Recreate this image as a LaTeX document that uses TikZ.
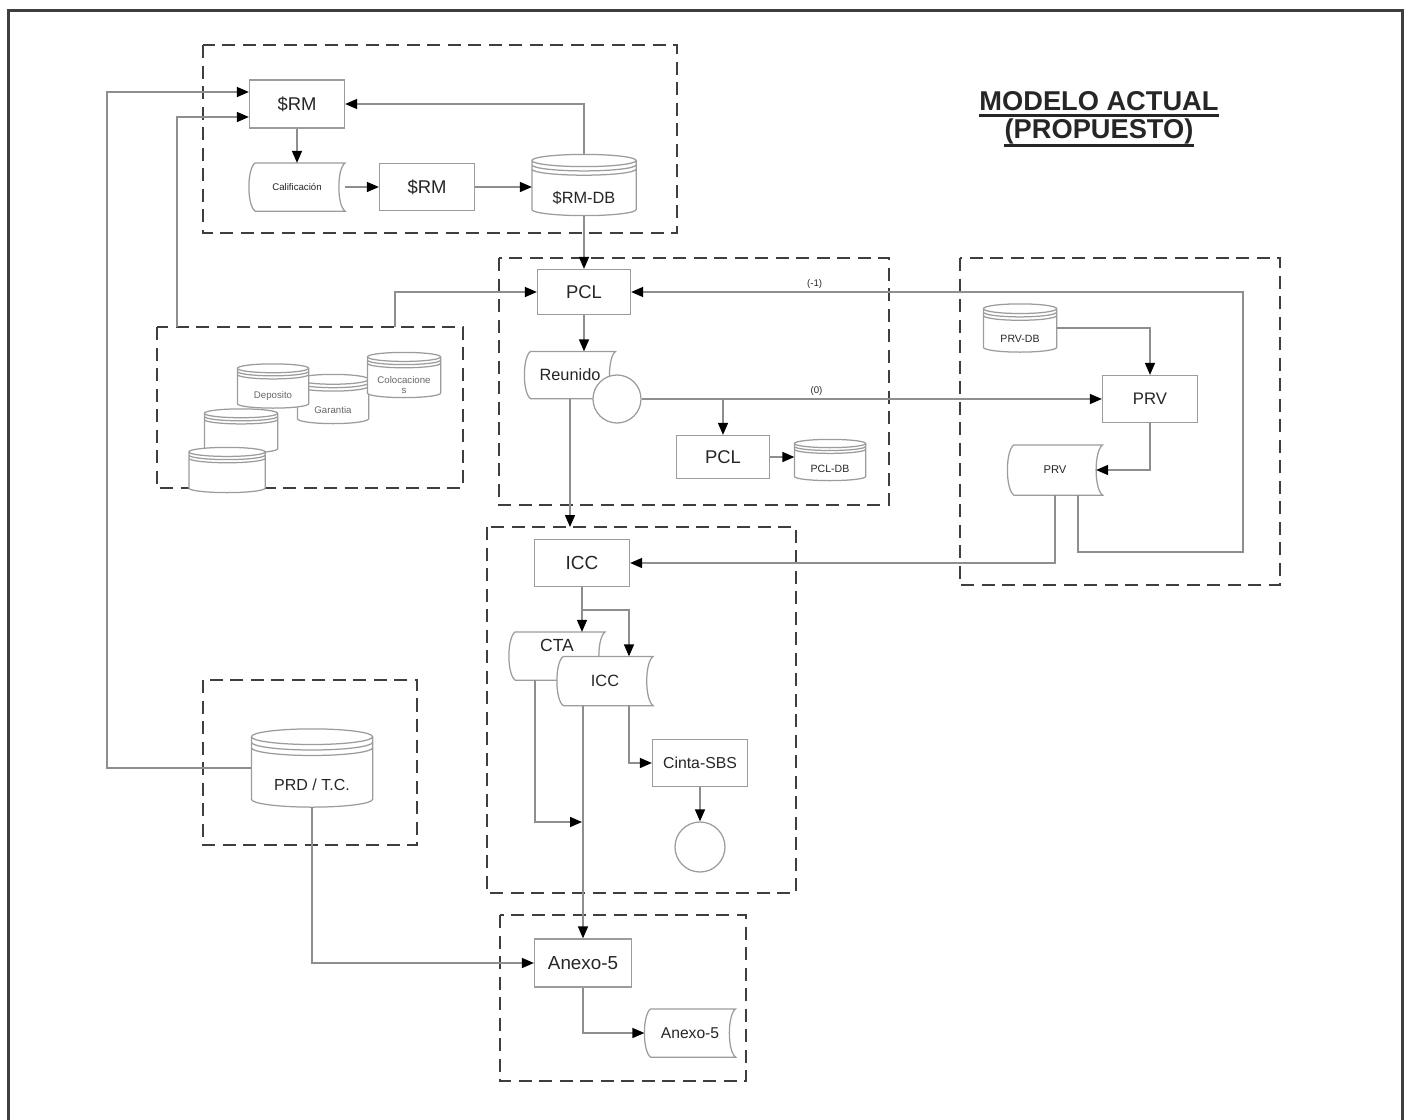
\documentclass[tikz,border=0pt]{standalone}
\usepackage{fontspec}
\setmainfont{Liberation Sans}
\usetikzlibrary{arrows.meta}

\newcommand{\fsz}[1]{\fontsize{#1}{#1}\selectfont}

\makeatletter
% flowchart "stored data": convex left side, concave right side
\pgfdeclareshape{storedata}{%
  \inheritsavedanchors[from=rectangle]%
  \inheritanchorborder[from=rectangle]%
  \inheritanchor[from=rectangle]{center}%
  \inheritanchor[from=rectangle]{north}%
  \inheritanchor[from=rectangle]{south}%
  \inheritanchor[from=rectangle]{east}%
  \inheritanchor[from=rectangle]{west}%
  \inheritanchor[from=rectangle]{north east}%
  \inheritanchor[from=rectangle]{north west}%
  \inheritanchor[from=rectangle]{south east}%
  \inheritanchor[from=rectangle]{south west}%
  \inheritanchor[from=rectangle]{base}%
  \inheritanchor[from=rectangle]{mid}%
  \anchor{inner east}{%
    \southwest \pgf@ya=\pgf@y
    \northeast \pgf@xb=\pgf@x \pgf@yb=\pgf@y
    \pgf@yc=\pgf@yb \advance\pgf@yc by -\pgf@ya
    \pgf@x=\pgf@xb \advance\pgf@x by -.13\pgf@yc
    \pgf@y=.5\pgf@ya \advance\pgf@y by .5\pgf@yb
  }%
  \backgroundpath{%
    \southwest \pgf@xa=\pgf@x \pgf@ya=\pgf@y
    \northeast \pgf@xb=\pgf@x \pgf@yb=\pgf@y
    \pgf@yc=\pgf@yb \advance\pgf@yc by -\pgf@ya
    \pgf@xc=.13\pgf@yc
    \pgf@yc=.12\pgf@yc
    \edef\sd@xa{\the\pgf@xa}\edef\sd@ya{\the\pgf@ya}%
    \edef\sd@xb{\the\pgf@xb}\edef\sd@yb{\the\pgf@yb}%
    \edef\sd@d{\the\pgf@xc}\edef\sd@v{\the\pgf@yc}%
    \pgfpathmoveto{\pgfpoint{\sd@xa+\sd@d}{\sd@yb}}%
    \pgfpathlineto{\pgfpoint{\sd@xb}{\sd@yb}}%
    \pgfpathcurveto{\pgfpoint{\sd@xb-1.333*\sd@d}{\sd@yb-\sd@v}}%
      {\pgfpoint{\sd@xb-1.333*\sd@d}{\sd@ya+\sd@v}}{\pgfpoint{\sd@xb}{\sd@ya}}%
    \pgfpathlineto{\pgfpoint{\sd@xa+\sd@d}{\sd@ya}}%
    \pgfpathcurveto{\pgfpoint{\sd@xa-0.333*\sd@d}{\sd@ya+\sd@v}}%
      {\pgfpoint{\sd@xa-0.333*\sd@d}{\sd@yb-\sd@v}}{\pgfpoint{\sd@xa+\sd@d}{\sd@yb}}%
    \pgfpathclose
  }%
}
% disk store: cylinder with a few rings under the lid
\pgfdeclareshape{diskstack}{%
  \inheritsavedanchors[from=rectangle]%
  \inheritanchorborder[from=rectangle]%
  \inheritanchor[from=rectangle]{center}%
  \inheritanchor[from=rectangle]{north}%
  \inheritanchor[from=rectangle]{south}%
  \inheritanchor[from=rectangle]{east}%
  \inheritanchor[from=rectangle]{west}%
  \inheritanchor[from=rectangle]{north east}%
  \inheritanchor[from=rectangle]{north west}%
  \inheritanchor[from=rectangle]{south east}%
  \inheritanchor[from=rectangle]{south west}%
  \inheritanchor[from=rectangle]{mid}%
  \anchor{text}{%
    \southwest \pgf@ya=\pgf@y
    \northeast \pgf@yb=\pgf@y
    \pgf@yc=\pgf@yb \advance\pgf@yc by -\pgf@ya
    \pgf@x=0pt \pgf@y=-.22\pgf@yc
  }%
  \backgroundpath{%
    \southwest \pgf@xa=\pgf@x \pgf@ya=\pgf@y
    \northeast \pgf@xb=\pgf@x \pgf@yb=\pgf@y
    \pgf@yc=\pgf@yb \advance\pgf@yc by -\pgf@ya
    \pgf@yc=.1\pgf@yc
    \pgf@xc=\pgf@xb \advance\pgf@xc by -\pgf@xa
    \pgf@xc=.5\pgf@xc
    \edef\dk@xa{\the\pgf@xa}\edef\dk@ya{\the\pgf@ya}%
    \edef\dk@xb{\the\pgf@xb}\edef\dk@yb{\the\pgf@yb}%
    \edef\dk@r{\the\pgf@yc}\edef\dk@rx{\the\pgf@xc}%
    \pgfpathmoveto{\pgfpoint{\dk@xa}{\dk@yb-\dk@r}}%
    \pgfpathlineto{\pgfpoint{\dk@xa}{\dk@ya+\dk@r}}%
    \pgfpatharc{180}{360}{\dk@rx and \dk@r}%
    \pgfpathlineto{\pgfpoint{\dk@xb}{\dk@yb-\dk@r}}%
    \pgfpatharc{0}{180}{\dk@rx and \dk@r}%
    \pgfpathclose
    \pgfpathmoveto{\pgfpoint{\dk@xa}{\dk@yb-\dk@r}}%
    \pgfpatharc{180}{360}{\dk@rx and \dk@r}%
    \pgfpathmoveto{\pgfpoint{\dk@xa}{\dk@yb-1.7*\dk@r}}%
    \pgfpatharc{180}{360}{\dk@rx and \dk@r}%
    \pgfpathmoveto{\pgfpoint{\dk@xa}{\dk@yb-2.4*\dk@r}}%
    \pgfpatharc{180}{360}{\dk@rx and \dk@r}%
  }%
}
\makeatother

\definecolor{lncol}{HTML}{8E8E8E}
\definecolor{bxcol}{HTML}{9C9C9C}
\definecolor{grpcol}{HTML}{3E3E3E}
\definecolor{txcol}{HTML}{262626}

\tikzset{
  box/.style={draw=bxcol, line width=0.25mm, fill=white, text=txcol, inner sep=1pt,
    minimum width=19mm, minimum height=9.4mm, font=\fsz{10.5}},
  doc/.style={box, shape=storedata},
  disk/.style={box, shape=diskstack},
  dsksm/.style={disk, minimum width=14mm, minimum height=8.8mm, text=gray!80!black, font=\fsz{5.5}, align=center},
  tapecirc/.style={circle, draw=bxcol, line width=0.25mm, fill=white, inner sep=0pt, minimum size=9.6mm},
  con/.style={draw=lncol, line width=0.3mm},
  arr/.style={con, -{Triangle[length=2.4mm, width=2mm, color=black]}},
  grp/.style={draw=grpcol, line width=0.4mm, dash pattern=on 2.6mm off 1.5mm},
  frame/.style={draw=grpcol, line width=0.6mm},
  lbl/.style={font=\fsz{5.5}, text=txcol, inner sep=1.5pt},
  ttl/.style={font=\bfseries\fsz{15.5}, text=txcol, inner sep=0pt, anchor=base},
  uln/.style={draw=txcol, line width=0.6mm},
}

\begin{document}
\begin{tikzpicture}[x=0.2mm,y=-0.2mm]
  \useasboundingbox (0,0) rectangle (1410,1120);
  \draw[frame] (8,1120) -- (8,10) -- (1402,10) -- (1402,1120);

  % dashed groups
  \draw[grp] (203,45) rectangle (677,233);
  \draw[grp] (157,327) rectangle (463,488);
  \draw[grp] (499,258) rectangle (889,505);
  \draw[grp] (960,258) rectangle (1280,585);
  \draw[grp] (487,527) rectangle (796,893);
  \draw[grp] (203,680) rectangle (417,845);
  \draw[grp] (500,915) rectangle (746,1081);

  % title
  \node[ttl] (t1) at (1099,110) {MODELO ACTUAL};
  \node[ttl] (t2) at (1099,138) {(PROPUESTO)};
  \draw[uln] ([yshift=-1mm]t1.base west) -- ([yshift=-1mm]t1.base east);
  \draw[uln] ([yshift=-1.5mm]t2.base west) -- ([yshift=-1.5mm]t2.base east);

  % $RM
  \node[box, minimum height=9.6mm] (srm1) at (297,104) {\$RM};
  \node[doc, font=\fsz{5.5}] (calif) at (297,187) {Calificación};
  \node[box] (srm2) at (427,187) {\$RM};
  \node[disk, minimum width=20.6mm, minimum height=12mm, font=\fsz{9.3}] (srmdb) at (584,185) {\$RM-DB};

  % deposits
  \node[dsksm, minimum height=9.6mm] (garant) at (333,399) {Garantia};
  \node[dsksm, minimum height=8.6mm] (depos) at (273,386) {Deposito};
  \node[dsksm, minimum width=14.4mm] (coloc) at (404,375) {Colocacione\\s};
  \node[dsksm, minimum width=14.4mm, minimum height=8.6mm] (emp1) at (241,431) {};
  \node[dsksm, minimum width=15mm] (emp2) at (227,470) {};

  % PCL
  \node[box, minimum width=18.6mm, minimum height=9mm] (pcl1) at (584,292) {PCL};
  \node[doc, minimum width=18mm, minimum height=9.2mm, font=\fsz{9.3}] (reunido) at (570,375) {Reunido};
  \node[tapecirc] (tapec) at (617,399) {};
  \node[box, minimum width=18.6mm, minimum height=8.6mm] (pcl2) at (723,457) {PCL};
  \node[disk, minimum width=14mm, minimum height=8mm, font=\fsz{6}] (pcldb) at (830,460) {PCL-DB};

  % PRV
  \node[disk, minimum width=14.4mm, font=\fsz{6}] (prvdb) at (1020,328) {PRV-DB};
  \node[box, font=\fsz{9.5}] (prv1) at (1150,399) {PRV};
  \node[doc, minimum width=18.8mm, minimum height=9.8mm, font=\fsz{6.4}] (prvdoc) at (1055,470) {PRV};

  % ICC
  \node[box, font=\fsz{10.8}] (icc1) at (582,563) {ICC};
  \node[doc, font=\fsz{10}, text depth=2.2ex] (cta) at (557,656) {CTA};
  \node[doc, minimum height=9.6mm, font=\fsz{9.3}] (iccdoc) at (605,681) {ICC};
  \node[box, font=\fsz{9}] (cinta) at (700,763) {Cinta-SBS};
  \node[tapecirc, minimum size=10mm] (endc) at (700,847) {};

  % PRD / Anexo
  \node[disk, minimum width=24mm, minimum height=15.4mm, font=\fsz{9.1}] (prd) at (312,768) {PRD / T.C.};
  \node[box, minimum width=19.4mm, minimum height=9.6mm, font=\fsz{10.7}] (anexo1) at (583,963) {Anexo-5};
  \node[doc, minimum width=18mm, font=\fsz{8.9}] (anexo2) at (690,1033) {Anexo-5};

  % free ends
  \coordinate (lft) at (107,92);
  \coordinate (y117) at (0,117);
  \coordinate (dep1) at (177,327);
  \coordinate (dep2) at (395,327);
  \coordinate (gtop) at (573,527);
  \coordinate (lpc) at (1243,552);
  \coordinate (ib) at (629,610);
  \coordinate (ctx) at (535,0);
  \coordinate (cj) at (582,822);

  % connectors
  \draw[arr] (prd.west) -| (lft) -- (srm1.west |- lft);
  \draw[arr] (dep1) |- (srm1.west |- y117);
  \draw[arr] (dep2) |- (pcl1.west);
  \draw[arr] (srm1) -- (calif);
  \draw[arr] (calif) -- (srm2);
  \draw[arr] (srm2.east) -- (srm2.east -| srmdb.west);
  \draw[arr] (srmdb.north) |- (srm1.east);
  \draw[arr] (srmdb.south) -- (pcl1.north);
  \draw[arr] (pcl1.south) -- (pcl1.south |- reunido.north);
  \draw[arr] (tapec) -- node[lbl, above, pos=.38] {(0)} (prv1);
  \draw[arr] (pcl2.north |- tapec) -- (pcl2.north);
  \draw[arr] (pcl2.east) -- (pcl2.east -| pcldb.west);
  \draw[arr] (reunido.south) -- (reunido.south |- gtop);
  \draw[arr] (prvdb.east) -| (prv1.north);
  \draw[arr] (prv1.south) |- (prvdoc.inner east);
  \draw[arr] (prvdoc.south) |- (icc1.east);
  \draw[arr] ([xshift=4.6mm]prvdoc.south) |- (lpc) |- node[lbl, above, pos=.85] {(-1)} (pcl1.east);
  \draw[arr] (icc1.south) -- (icc1.south |- cta.north);
  \draw[arr] (icc1.south |- ib) -- (ib) -- (ib |- iccdoc.north);
  \draw[arr] (ib |- iccdoc.south) |- (cinta.west);
  \draw[arr] (cinta) -- (endc);
  \draw[arr] (cta.south -| ctx) |- (cj);
  \draw[arr] (iccdoc.south -| anexo1.north) -- (anexo1.north);
  \draw[arr] (prd.south) |- (anexo1.west);
  \draw[arr] (anexo1.south) |- (anexo2.west);
\end{tikzpicture}
\end{document}
